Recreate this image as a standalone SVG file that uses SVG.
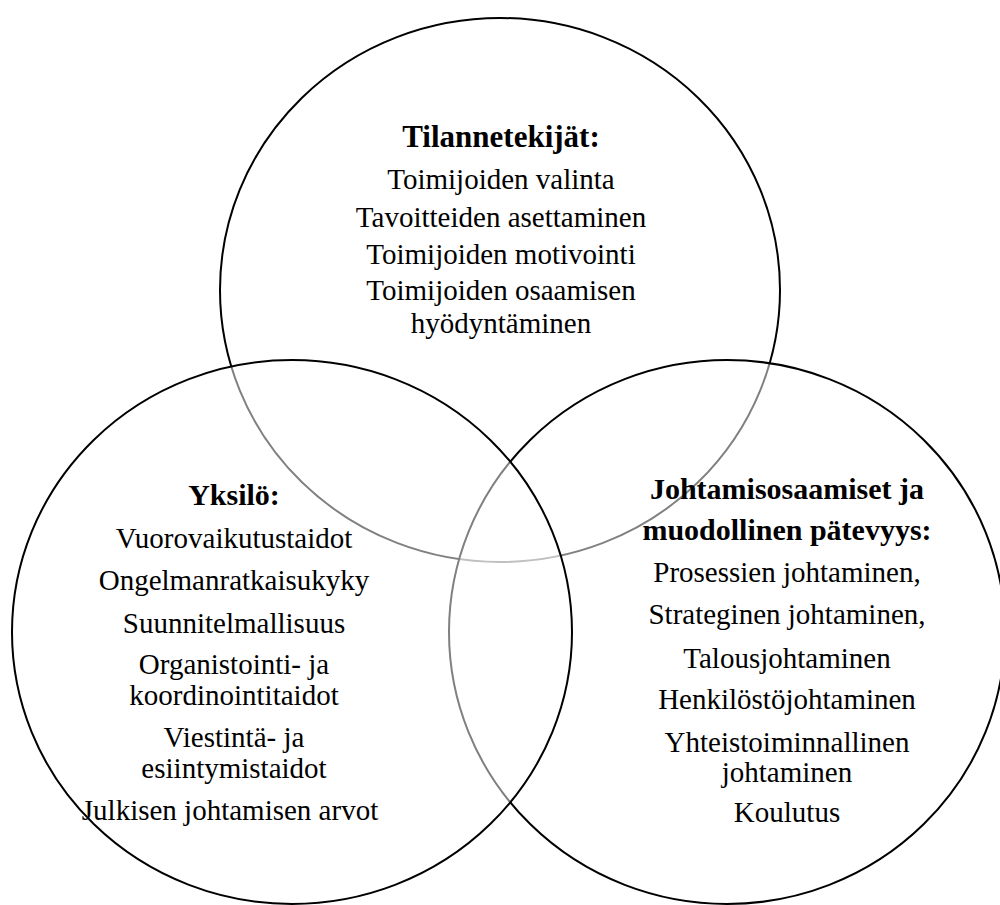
<svg xmlns="http://www.w3.org/2000/svg" width="1000" height="905" viewBox="0 0 1000 905">
<style>
.c{fill:#fff;fill-opacity:0.5;stroke:#000;stroke-width:2}
text{font-family:"Liberation Serif","Times New Roman",serif;fill:#000;text-anchor:middle}
.t{font-size:29px}
.b{font-size:30px;font-weight:bold}
</style>
<rect width="1000" height="905" fill="#fff"/>
<g id="connectors"></g>
<g id="tilannetekijat-circle"><ellipse class="c" cx="500" cy="290" rx="280" ry="272"/></g>
<g id="johtamisosaamiset-circle"><ellipse class="c" cx="727" cy="632" rx="278" ry="272"/></g>
<g id="yksilo-circle"><ellipse class="c" cx="292" cy="632" rx="280" ry="272"/></g>
<g id="tilannetekijat">
<text class="b" x="501" y="147" style="font-size:31px">Tilannetekijät:</text>
<text class="t" x="501" y="189">Toimijoiden valinta</text>
<text class="t" x="501" y="227">Tavoitteiden asettaminen</text>
<text class="t" x="501" y="264">Toimijoiden motivointi</text>
<text class="t" x="501" y="300">Toimijoiden osaamisen</text>
<text class="t" x="501" y="333">hyödyntäminen</text>
</g>
<g id="yksilo">
<text class="b" x="234" y="505">Yksilö:</text>
<text class="t" x="234" y="548">Vuorovaikutustaidot</text>
<text class="t" x="234" y="590">Ongelmanratkaisukyky</text>
<text class="t" x="234" y="633">Suunnitelmallisuus</text>
<text class="t" x="234" y="674">Organistointi- ja</text>
<text class="t" x="234" y="705">koordinointitaidot</text>
<text class="t" x="234" y="747">Viestintä- ja</text>
<text class="t" x="234" y="778">esiintymistaidot</text>
<text class="t" x="230" y="820">Julkisen johtamisen arvot</text>
</g>
<g id="johtamisosaamiset">
<text class="b" x="787" y="499">Johtamisosaamiset ja</text>
<text class="b" x="787" y="540">muodollinen pätevyys:</text>
<text class="t" x="787" y="582">Prosessien johtaminen,</text>
<text class="t" x="787" y="624">Strateginen johtaminen,</text>
<text class="t" x="787" y="668">Talousjohtaminen</text>
<text class="t" x="787" y="709">Henkilöstöjohtaminen</text>
<text class="t" x="787" y="752">Yhteistoiminnallinen</text>
<text class="t" x="787" y="782">johtaminen</text>
<text class="t" x="787" y="822">Koulutus</text>
</g>
</svg>
